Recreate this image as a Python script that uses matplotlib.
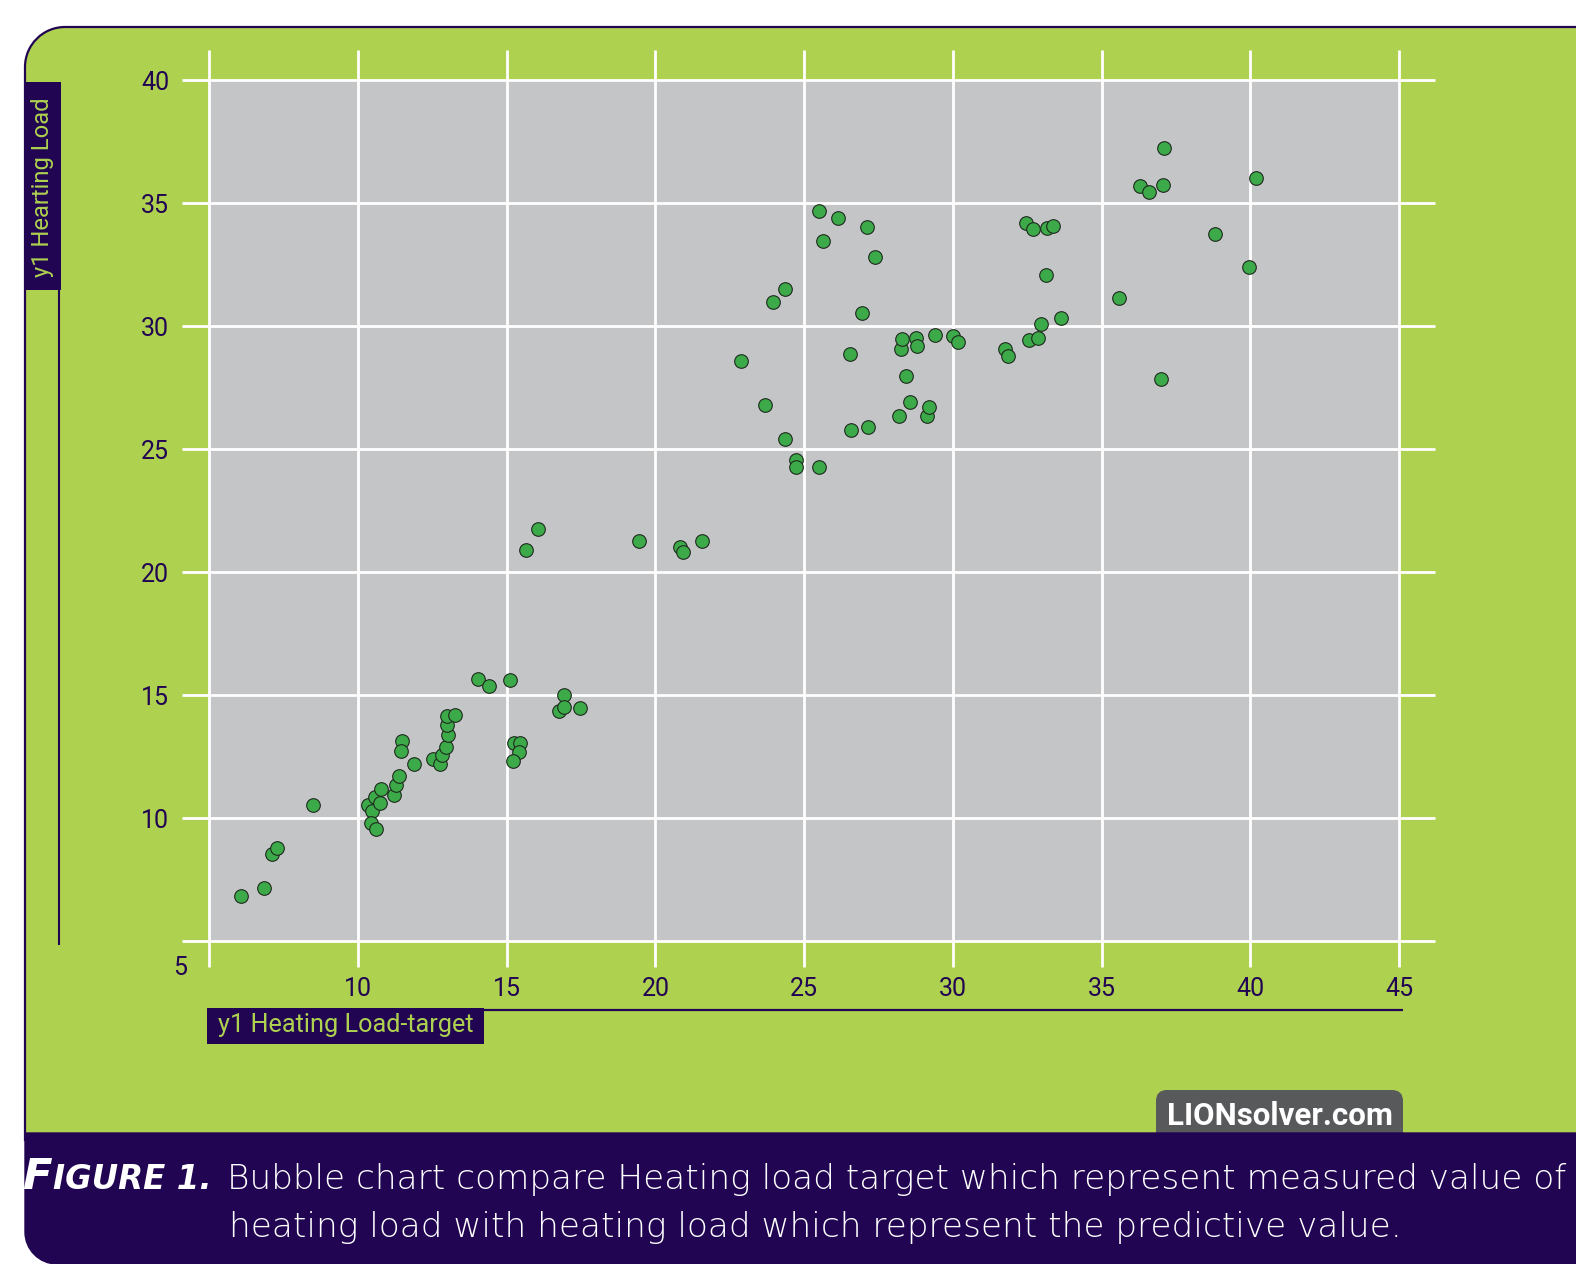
import matplotlib
matplotlib.use('Agg')
import matplotlib.pyplot as plt
from matplotlib.patches import PathPatch, Rectangle, FancyBboxPatch
from matplotlib.path import Path

# ---------------- data ----------------
heating_target = [6.06, 6.84, 7.11, 7.27, 8.50, 10.35, 10.46, 10.43, 10.60, 10.58,
                  10.74, 10.78, 11.21, 11.27, 11.39, 11.47, 11.44, 11.88, 12.51, 12.76,
                  12.83, 12.95, 13.01, 12.99, 12.99, 13.26, 14.04, 14.42, 15.11, 15.23,
                  15.45, 15.42, 15.21, 15.65, 16.05, 16.76, 16.91, 16.94, 17.47, 19.45,
                  20.81, 20.94, 21.56, 22.89, 23.70, 23.96, 24.34, 24.36, 24.73, 24.74,
                  25.51, 25.50, 25.64, 26.14, 26.55, 26.56, 26.96, 27.11, 27.15, 27.39,
                  28.20, 28.26, 28.28, 28.41, 28.55, 28.75, 28.80, 29.14, 29.21, 29.41,
                  30.00, 30.18, 31.75, 31.86, 32.46, 32.55, 32.68, 32.86, 32.95, 33.13,
                  33.18, 33.38, 33.65, 35.59, 36.28, 36.60, 36.99, 37.08, 37.10, 38.82,
                  39.94, 40.18]
heating_pred = [6.80, 7.14, 8.52, 8.78, 10.52, 10.50, 10.27, 9.80, 9.53, 10.85,
                10.59, 11.17, 10.94, 11.34, 11.71, 13.12, 12.72, 12.18, 12.40, 12.18,
                12.56, 12.89, 13.36, 13.76, 14.14, 14.18, 15.63, 15.34, 15.60, 13.05,
                13.05, 12.68, 12.32, 20.87, 21.73, 14.34, 14.99, 14.49, 14.46, 21.26,
                21.02, 20.82, 21.26, 28.57, 26.80, 30.97, 31.50, 25.39, 24.55, 24.25,
                24.25, 34.68, 33.44, 34.39, 28.86, 25.78, 30.52, 34.02, 25.88, 32.81,
                26.32, 29.07, 29.47, 27.97, 26.92, 29.49, 29.17, 26.34, 26.72, 29.62,
                29.59, 29.33, 29.05, 28.79, 34.18, 29.44, 33.94, 29.49, 30.09, 32.07,
                33.98, 34.05, 30.31, 31.12, 35.69, 35.46, 27.83, 35.74, 37.23, 33.75,
                32.40, 36.03]

x_ticks = [5, 10, 15, 20, 25, 30, 35, 40, 45]
y_ticks = [5, 10, 15, 20, 25, 30, 35, 40]
x_tick_labels = ['10', '15', '20', '25', '30', '35', '40', '45']
y_tick_labels = ['10', '15', '20', '25', '30', '35', '40']
corner_label = '5'
x_label = 'y1 Heating Load-target'
y_label = 'y1 Hearting Load'
caption_lead_big = 'F'
caption_lead_small = 'IGURE 1.'
caption_line1 = 'Bubble chart compare Heating load target which represent measured value of'
caption_line2 = 'heating load with heating load which represent the predictive value.'
brand = 'LIONsolver.com'

# ---------------- style ----------------
GREEN_BG = '#AED150'
PURPLE = '#220552'
GREY = '#C4C5C7'
DOT = '#3DAA49'
DOT_EDGE = '#1E2A1E'
LOGO_GREY = '#58595B'
FONT = ['Roboto', 'DejaVu Sans']
CAP_FONT = ['DejaVu Sans']

W, H = 1576, 1264
fig = plt.figure(figsize=(W / 100, H / 100), dpi=100)
fig.patch.set_facecolor('white')

bg = fig.add_axes([0, 0, 1, 1], zorder=0)
bg.set_xlim(0, W)
bg.set_ylim(H, 0)
bg.axis('off')

K = 0.5523


def rounded_path(x0, y0, x1, y1, r_tl=0, r_bl=0):
    verts, codes = [], []
    verts.append((x0, y0 + r_tl)); codes.append(Path.MOVETO)
    if r_tl:
        verts += [(x0, y0 + r_tl * (1 - K)), (x0 + r_tl * (1 - K), y0), (x0 + r_tl, y0)]
        codes += [Path.CURVE4] * 3
    verts.append((x1, y0)); codes.append(Path.LINETO)
    verts.append((x1, y1)); codes.append(Path.LINETO)
    verts.append((x0 + r_bl, y1)); codes.append(Path.LINETO)
    if r_bl:
        verts += [(x0 + r_bl * (1 - K), y1), (x0, y1 - r_bl * (1 - K)), (x0, y1 - r_bl)]
        codes += [Path.CURVE4] * 3
    verts.append((x0, y0 + r_tl)); codes.append(Path.CLOSEPOLY)
    return Path(verts, codes)


# green panel
bg.add_patch(PathPatch(rounded_path(25, 27, W + 20, 1140, r_tl=40), facecolor=GREEN_BG,
                       edgecolor=PURPLE, lw=1.6, zorder=1))
# logo tab
bg.add_patch(FancyBboxPatch((1156, 1090), 247, 60, boxstyle='round,pad=0,rounding_size=11',
                            facecolor=LOGO_GREY, edgecolor='none', zorder=2))
# caption band
bg.add_patch(PathPatch(rounded_path(25, 1133, W + 20, H, r_bl=32), facecolor=PURPLE,
                       edgecolor=PURPLE, lw=1.0, zorder=3))

# y-label box & line
bg.add_patch(Rectangle((25, 82), 36, 208, facecolor=PURPLE, edgecolor='none', zorder=4))
bg.plot([59.5, 59.5], [82, 945], color=PURPLE, lw=1.5, zorder=4, solid_capstyle='butt')
# x-label box & line
bg.add_patch(Rectangle((207, 1008), 277, 36, facecolor=PURPLE, edgecolor='none', zorder=4))
bg.plot([207, 1403], [1009.5, 1009.5], color=PURPLE, lw=1.6, zorder=4, solid_capstyle='butt')

t_ylab = bg.text(43, 187, y_label, rotation=90, ha='center', va='center', color=GREEN_BG,
                 fontsize=17, family=FONT, zorder=5)
t_xlab = bg.text(346, 1025, x_label, ha='center', va='center', color=GREEN_BG,
                 fontsize=17, family=FONT, zorder=5)

t_brand = bg.text(1280, 1125, brand, ha='center', va='baseline', color='white',
                  fontsize=22, fontweight='bold', family=FONT, zorder=5)

t_F = bg.text(22, 1189, caption_lead_big, ha='left', va='baseline', color='white',
              fontsize=24, fontweight='bold', fontstyle='italic', family=CAP_FONT, zorder=5)
t_IG = bg.text(40, 1189, caption_lead_small, ha='left', va='baseline', color='white',
               fontsize=18, fontweight='bold', fontstyle='italic', family=CAP_FONT, zorder=5)
t_c1 = bg.text(227, 1189, caption_line1, ha='left', va='baseline', color='white',
               fontsize=22, fontweight='light', family=CAP_FONT, zorder=5)
t_c2 = bg.text(229, 1237, caption_line2, ha='left', va='baseline', color='white',
               fontsize=22, fontweight='light', family=CAP_FONT, zorder=5)

# ---------------- plot axes ----------------
ax_l, ax_r, ax_t, ax_b = 209.3, 1399.0, 80.0, 940.7
ax = fig.add_axes([ax_l / W, 1 - ax_b / H, (ax_r - ax_l) / W, (ax_b - ax_t) / H], zorder=2)
ax.set_xlim(x_ticks[0], x_ticks[-1])
ax.set_ylim(y_ticks[0], y_ticks[-1])
ax.set_facecolor(GREY)
for s in ax.spines.values():
    s.set_visible(False)
ax.set_xticks([])
ax.set_yticks([])

sx = (ax_r - ax_l) / (x_ticks[-1] - x_ticks[0])
sy = (ax_b - ax_t) / (y_ticks[-1] - y_ticks[0])
# grid line extents (pixels beyond the axes)
x_ext_left = x_ticks[0] - (ax_l - 182) / sx
x_ext_right = x_ticks[-1] + (1435 - ax_r) / sx
y_ext_top = y_ticks[-1] + (ax_t - 50) / sy
y_ext_bot = y_ticks[0] - (967 - ax_b) / sy

for xv in x_ticks:
    ax.plot([xv, xv], [y_ext_bot, y_ext_top], color='white', lw=2.0, clip_on=False, zorder=1,
            solid_capstyle='butt')
for yv in y_ticks:
    ax.plot([x_ext_left, x_ext_right], [yv, yv], color='white', lw=2.0, clip_on=False, zorder=1,
            solid_capstyle='butt')

ax.scatter(heating_target, heating_pred, s=96, c=DOT, edgecolors=DOT_EDGE, linewidths=0.8,
           zorder=3, clip_on=False)

for yv, lbl in zip(y_ticks[1:], y_tick_labels):
    ax.annotate(lbl, xy=(x_ticks[0], yv), xytext=(-40, -3), textcoords='offset pixels',
                ha='right', va='center', color=PURPLE, fontsize=18, family=FONT,
                annotation_clip=False)
for xv, lbl in zip(x_ticks[1:], x_tick_labels):
    ax.annotate(lbl, xy=(xv, y_ticks[0]), xytext=(0, -48), textcoords='offset pixels',
                ha='center', va='center', color=PURPLE, fontsize=18, family=FONT,
                annotation_clip=False)
ax.annotate(corner_label, xy=(x_ticks[0], y_ticks[0]), xytext=(-29, -27),
            textcoords='offset pixels', ha='center', va='center', color=PURPLE, fontsize=18,
            family=FONT, annotation_clip=False)

# ---------------- fit text widths ----------------
renderer = fig.canvas.get_renderer()


def fit(t, target, vertical=False):
    bb = t.get_window_extent(renderer)
    cur = bb.height if vertical else bb.width
    t.set_fontsize(t.get_fontsize() * target / cur)


fit(t_ylab, 180, vertical=True)
fit(t_xlab, 256)
fit(t_brand, 226)
fit(t_c1, 1337)
fit(t_c2, 1170)

wF = t_F.get_window_extent(renderer).width
wI = t_IG.get_window_extent(renderer).width
k = 191 / (wF + wI + 2)
t_F.set_fontsize(t_F.get_fontsize() * k)
t_IG.set_fontsize(t_IG.get_fontsize() * k)
wF = t_F.get_window_extent(renderer).width
t_IG.set_x(22 + wF + 1)

fig.savefig('out.png', dpi=100, facecolor=fig.get_facecolor())
